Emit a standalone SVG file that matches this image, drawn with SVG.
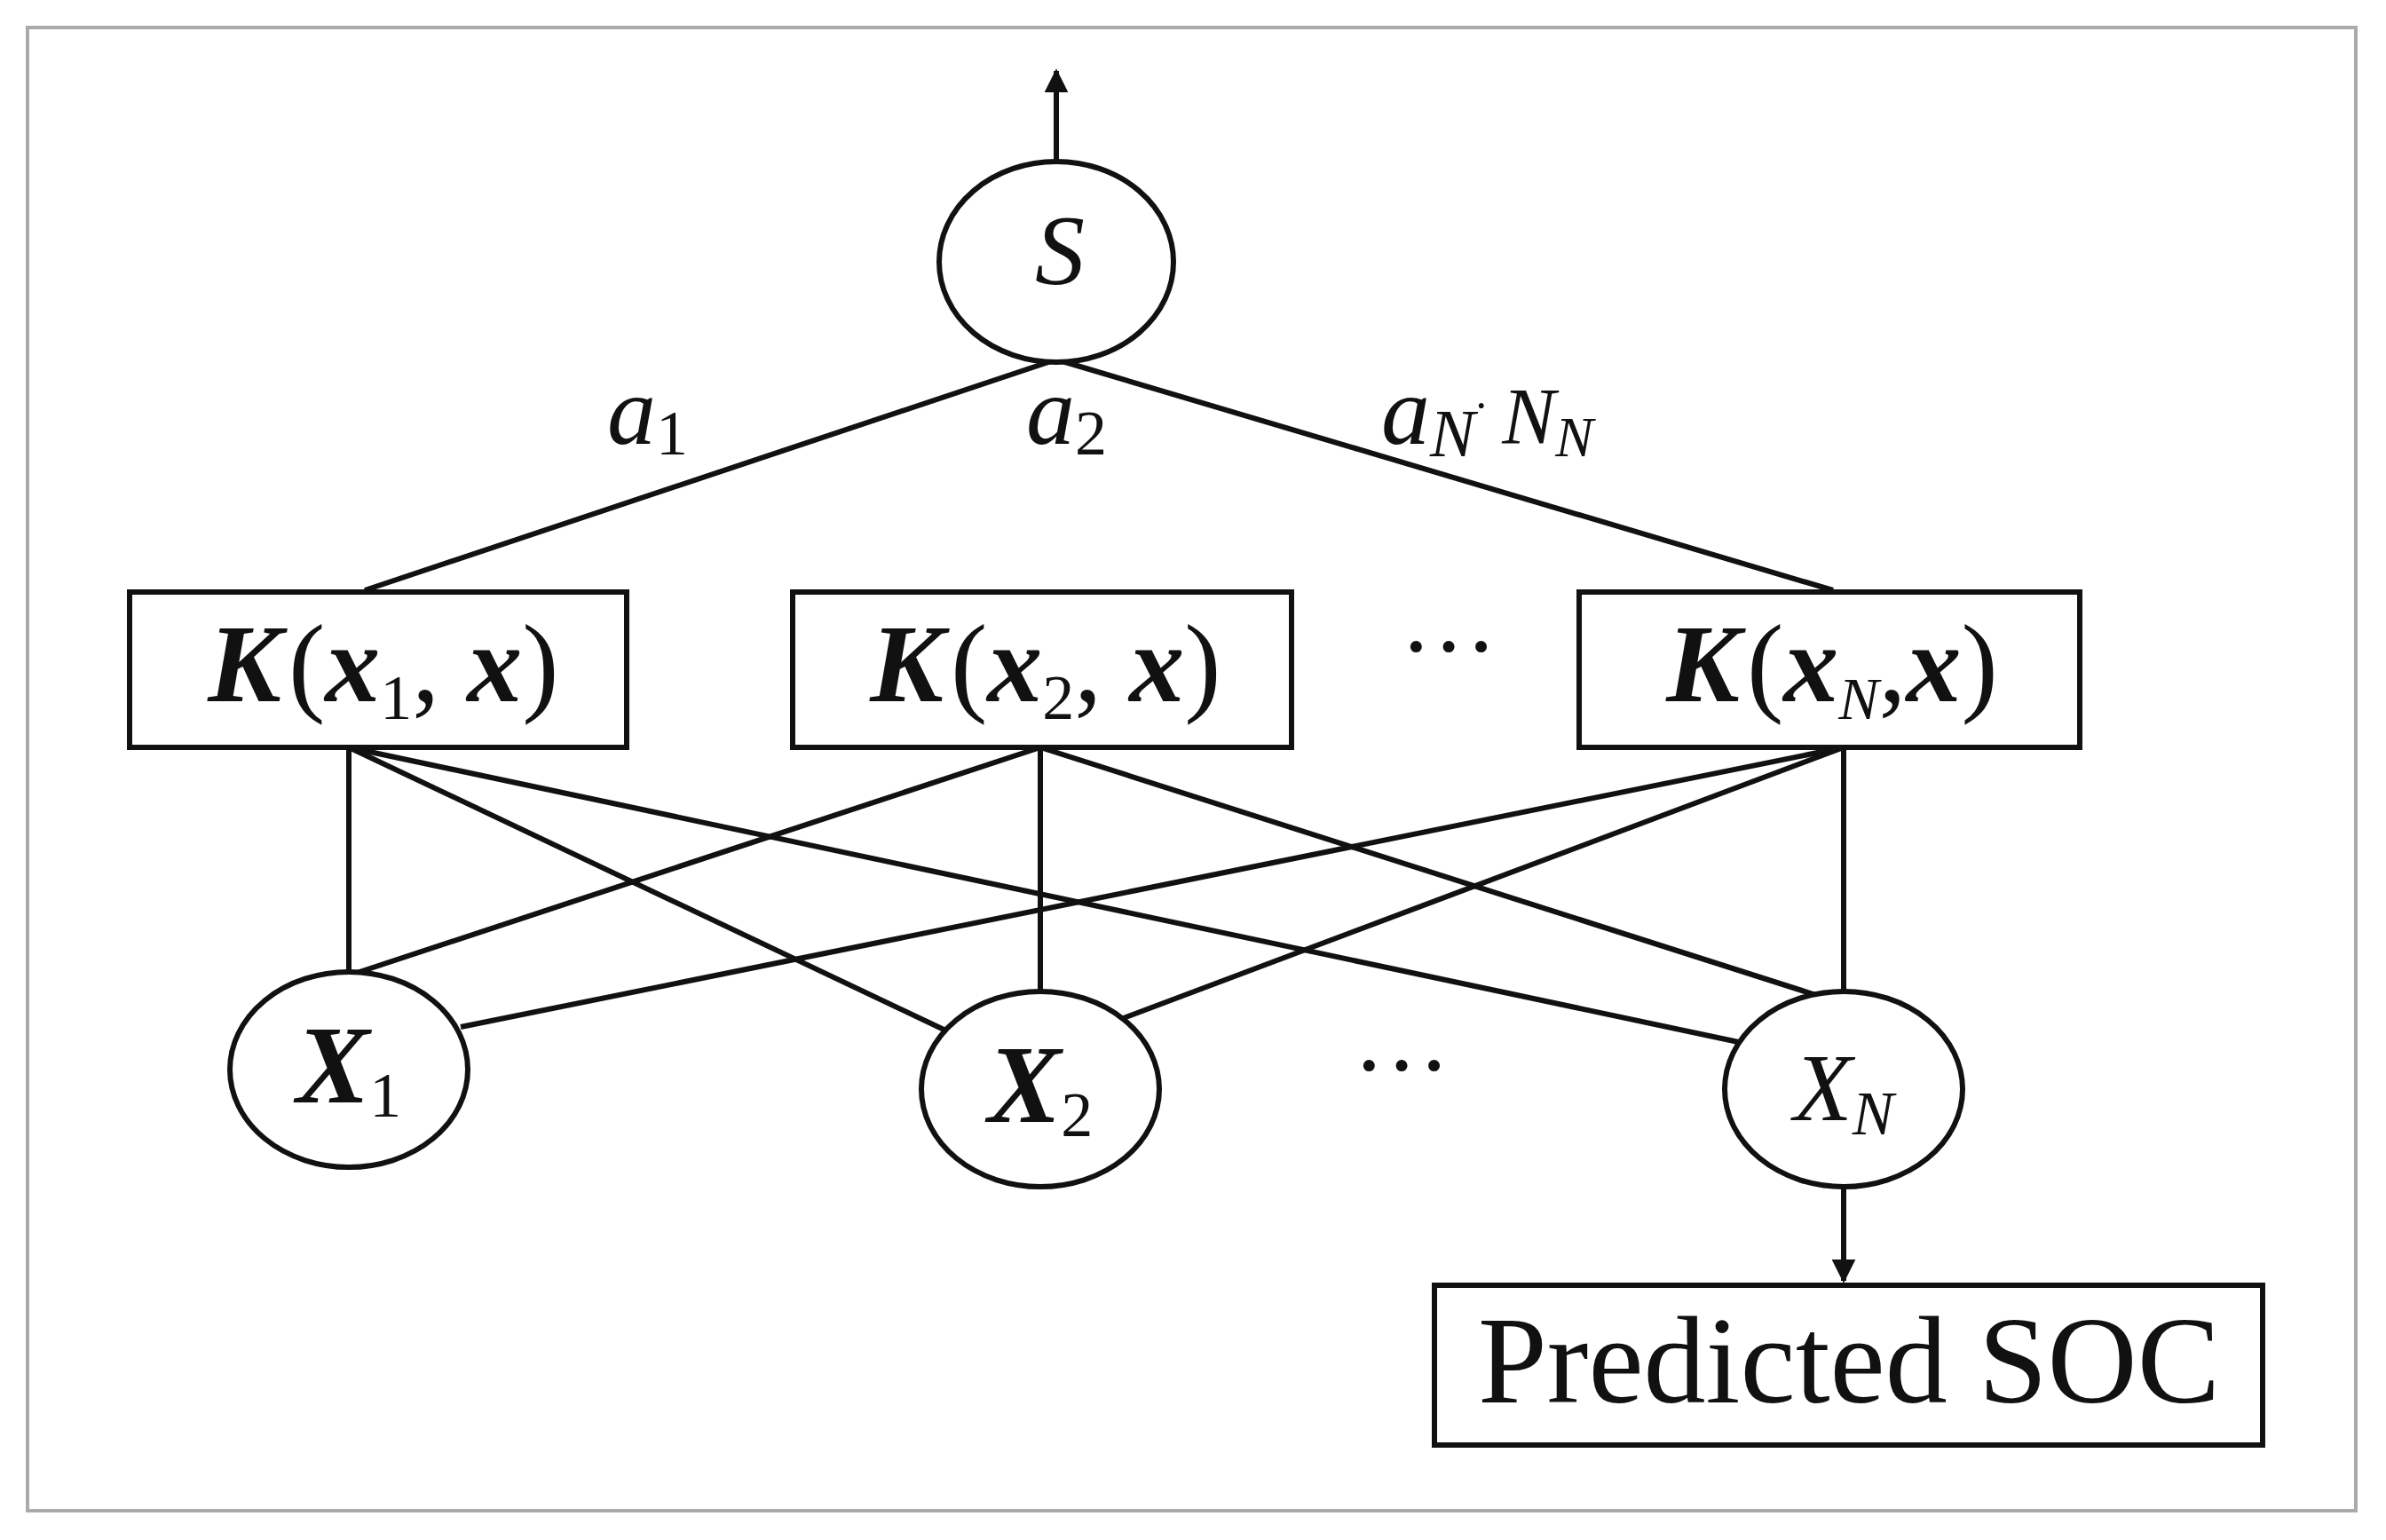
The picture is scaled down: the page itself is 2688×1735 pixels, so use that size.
<svg xmlns="http://www.w3.org/2000/svg" width="2688" height="1735" viewBox="0 0 2688 1735">
<style>
.s{fill:none;stroke:#111;stroke-width:6}
.n{fill:#fff;stroke:#111;stroke-width:6}
text{font-family:"Liberation Serif","DejaVu Serif",serif;fill:#111}
.k{font-size:124px;font-weight:bold;font-style:italic}
.i{font-style:italic}
.p{font-weight:normal;font-style:normal}
</style>
<defs><marker id="ar" viewBox="0 0 10 10" refX="9" refY="5" markerWidth="4.5" markerHeight="4.5" orient="auto"><path d="M0,0L10,5L0,10z" fill="#111"/></marker></defs>
<rect x="31" y="31" width="2623" height="1671" fill="#fff" stroke="#aaa" stroke-width="4"/>
<g id="connectors" class="s">
<line x1="1190" y1="182" x2="1190" y2="80" marker-end="url(#ar)"/>
<line x1="1190" y1="405" x2="411" y2="665"/>
<line x1="1190" y1="405" x2="2065" y2="665"/>
<line x1="393" y1="842" x2="393" y2="1099"/>
<line x1="393" y1="842" x2="1076" y2="1166"/>
<line x1="393" y1="842" x2="1968" y2="1176"/>
<line x1="1172" y1="842" x2="393" y2="1099"/>
<line x1="1172" y1="842" x2="1172" y2="1121"/>
<line x1="1172" y1="842" x2="2077" y2="1131"/>
<line x1="2077" y1="842" x2="519" y2="1157"/>
<line x1="2077" y1="842" x2="1263" y2="1148"/>
<line x1="2077" y1="842" x2="2077" y2="1131"/>
<line x1="2077" y1="1327" x2="2077" y2="1443" marker-end="url(#ar)"/>
</g>
<g id="S"><ellipse class="n" cx="1190" cy="295" rx="132" ry="113"/><text x="1166" y="320" font-size="112" class="i">S</text></g>
<g id="labels" font-size="110">
<text x="684" y="500" class="i">a<tspan font-size="72" dy="12" class="p">1</tspan></text>
<text x="1156" y="500" class="i">a<tspan font-size="72" dy="12" class="p">2</tspan></text>
<text x="1556" y="500" class="i">a<tspan font-size="76" dy="14">N</tspan><tspan dy="-40" font-size="50">·</tspan><tspan dy="26" dx="18" font-size="90">N</tspan><tspan font-size="64" dy="14">N</tspan></text>
</g>
<g id="K1"><rect class="n" x="146" y="667" width="560" height="175"/><text x="432" y="790" text-anchor="middle" class="k">K<tspan class="p" dx="8">(</tspan>x<tspan font-size="72" class="p" dy="20">1</tspan><tspan dy="-20" class="p">, </tspan>x<tspan class="p">)</tspan></text></g>
<g id="K2"><rect class="n" x="893" y="667" width="562" height="175"/><text x="1178" y="790" text-anchor="middle" class="k">K<tspan class="p" dx="8">(</tspan>x<tspan font-size="72" class="p" dy="20">2</tspan><tspan dy="-20" class="p">, </tspan>x<tspan class="p">)</tspan></text></g>
<g id="KN"><rect class="n" x="1779" y="667" width="564" height="175"/><text x="2064" y="790" text-anchor="middle" class="k">K<tspan class="p" dx="8">(</tspan>x<tspan font-size="68" font-weight="normal" dy="20">N</tspan><tspan dy="-20" class="p">,</tspan>x<tspan class="p">)</tspan></text></g>
<text x="1632" y="765" text-anchor="middle" font-size="110">···</text>
<g id="X1"><ellipse class="n" cx="393" cy="1205" rx="134" ry="110"/><text x="393" y="1242" text-anchor="middle" class="k" font-size="112">X<tspan font-size="72" class="p" dy="16">1</tspan></text></g>
<g id="X2"><ellipse class="n" cx="1172" cy="1227" rx="134" ry="110"/><text x="1172" y="1264" text-anchor="middle" class="k" font-size="112">X<tspan font-size="72" class="p" dy="16">2</tspan></text></g>
<g id="XN"><ellipse class="n" cx="2077" cy="1227" rx="134" ry="110"/><text x="2077" y="1262" text-anchor="middle" font-size="108" class="i">X<tspan font-size="70" dy="16">N</tspan></text></g>
<text x="1579" y="1237" text-anchor="middle" font-size="110">···</text>
<g id="SOC"><rect class="n" x="1616" y="1448" width="933" height="180"/><text x="2083" y="1580" text-anchor="middle" font-size="140">Predicted SOC</text></g>
</svg>
